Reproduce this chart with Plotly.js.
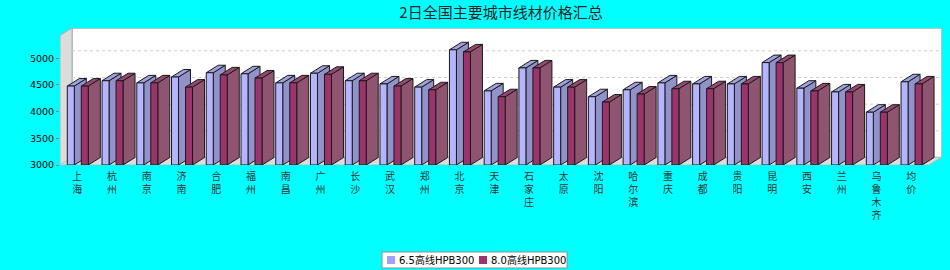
<!DOCTYPE html>
<html>
<head>
<meta charset="utf-8">
<script src="https://cdn.plot.ly/plotly-3.0.1.min.js"></script>
<style>html,body{margin:0;padding:0;background:#00ffff;}#chart{width:950px;height:270px;}</style>
</head>
<body>
<div id="chart"></div>
<script>
// ---- data ----
const categories = ['上海','杭州','南京','济南','合肥','福州','南昌','广州','长沙','武汉','郑州','北京','天津','石家庄','太原','沈阳','哈尔滨','重庆','成都','贵阳','昆明','西安','兰州','乌鲁木齐','均价'];
const series65 = [4480,4580,4540,4650,4730,4710,4540,4720,4580,4520,4460,5160,4390,4820,4460,4280,4410,4540,4520,4520,4920,4440,4370,3990,4560];
const series80 = [4480,4580,4540,4460,4690,4630,4540,4700,4580,4480,4410,5120,4280,4820,4460,4180,4330,4430,4430,4520,4920,4390,4370,3990,4520];
const seriesNames = ['6.5高线HPB300','8.0高线HPB300'];
const yTickVals = [3000,3500,4000,4500,5000];
const title = '2日全国主要城市线材价格汇总';

// ---- geometry (layout / scale helpers) ----
const W = 950, H = 270;
const M = {l:60, r:8, t:28, b:105};
const plotW = W - M.l - M.r, plotH = H - M.t - M.b;
const pxPerCat = 34.74;            // category spacing in px
const pxPer500 = 26.67;            // px per 500 on value axis
const yMin = 3000;
const yMax = yMin + plotH * 500 / pxPer500;
const xMin = -0.5, xMax = xMin + plotW / pxPerCat;
const xFrontMax = categories.length - 0.5;
const DX = 12 / pxPerCat;          // 3D depth (x)
const DY = 7.5 * 500 / pxPer500;   // 3D depth (y)
const barW = 7 / pxPerCat;
const offs = [-0.29, 0.113];
const pX = p => (p - M.l) / plotW;          // pixel -> paper x
const pY = p => (H - M.b - p) / plotH;      // pixel -> paper y

const col = {
  front: ['rgb(180,180,255)','rgb(156,52,108)'],
  side:  ['rgb(146,146,202)','rgb(143,84,112)'],
  top:   ['rgb(160,160,220)','rgb(150,72,112)'],
  legend:['rgb(160,160,255)','rgb(156,52,108)']
};

function poly(name, xs, ys, fill, line, lw) {
  return {type:'scatter', mode:'lines', x:xs, y:ys, fill:'toself', fillcolor:fill,
          line:{color:line, width:lw===undefined?1:lw}, hoverinfo:'skip', showlegend:false, name:name};
}

const traces = [];
// back wall
traces.push(poly('backwall', [xMin+DX, xMax, xMax, xMin+DX, xMin+DX], [yMin+DY, yMin+DY, yMax, yMax, yMin+DY], '#ffffff', '#8fbcbc', 1.5));
// left wall
traces.push(poly('leftwall', [xMin, xMin+DX, xMin+DX, xMin, xMin], [yMin, yMin+DY, yMax, yMax-DY, yMin], '#dcdcdc', '#b0b0b0', 1));
// floor
traces.push(poly('floor', [xMin, xFrontMax, xFrontMax+DX, xMin+DX, xMin], [yMin, yMin, yMin+DY, yMin+DY, yMin], '#dcdcdc', '#c0c0c0', 1));
// gridlines on back wall
{
  const gx = [], gy = [];
  yTickVals.slice(1).forEach(v => { gx.push(xMin+DX, xMax, null); gy.push(v+DY, v+DY, null); });
  traces.push({type:'scatter', mode:'lines', x:gx, y:gy, line:{color:'#cfcfcf', width:1, dash:'3px,3px'}, hoverinfo:'skip', showlegend:false});
}

// 3D bars
[series65, series80].forEach((vals, s) => {
  const fx=[], fy=[], sx=[], sy=[], tx=[], ty=[];
  vals.forEach((v, i) => {
    const xl = i + offs[s], xr = xl + barW;
    fx.push(xl, xr, xr, xl, xl, null); fy.push(yMin, yMin, v, v, yMin, null);
    sx.push(xr, xr+DX, xr+DX, xr, xr, null); sy.push(yMin, yMin+DY, v+DY, v, yMin, null);
    tx.push(xl, xr, xr+DX, xl+DX, xl, null); ty.push(v, v, v+DY, v+DY, v, null);
  });
  traces.push(poly(seriesNames[s]+' side', sx, sy, col.side[s], '#1a1a1a', 1));
  traces.push(poly(seriesNames[s]+' top', tx, ty, col.top[s], '#1a1a1a', 1));
  traces.push(poly(seriesNames[s], fx, fy, col.front[s], '#1a1a1a', 1));
});

// legend box (drawn like the reference's compact legend)
const legBox = {x0:382, x1:567, y0:252, y1:268};
const legItems = [{sw:387, tx:397}, {sw:479, tx:489}];
const shapes = [
  {type:'rect', xref:'paper', yref:'paper', x0:pX(legBox.x0), x1:pX(legBox.x1), y0:pY(legBox.y1), y1:pY(legBox.y0),
   fillcolor:'#ffffff', line:{color:'#909090', width:1}}
];
const annotations = [];
seriesNames.forEach((n, s) => {
  const it = legItems[s], cy = (legBox.y0 + legBox.y1) / 2;
  shapes.push({type:'rect', xref:'paper', yref:'paper', x0:pX(it.sw), x1:pX(it.sw+8), y0:pY(cy+4), y1:pY(cy-4),
               fillcolor:col.legend[s], line:{width:0}});
  annotations.push({xref:'paper', yref:'paper', x:pX(it.tx), y:pY(cy), xanchor:'left', yanchor:'middle',
                    text:n, showarrow:false, font:{family:'DejaVu Sans, Noto Sans CJK SC', size:10, color:'#000'}});
});

const layout = {
  width: W, height: H,
  margin: M,
  paper_bgcolor: '#00ffff',
  plot_bgcolor: '#00ffff',
  title: {text: title, x: 0.5, xref: 'paper', xanchor: 'center', y: 0.953, yref: 'container', yanchor: 'middle',
          font: {family: 'Noto Sans CJK SC', size: 15, color: '#222'}},
  xaxis: {range: [xMin, xMax], tickvals: categories.map((c,i)=>i),
          ticktext: categories.map(c => c.split('').join('<br>')),
          showgrid: false, zeroline: false, showline: false, ticks: '', ticklabelstandoff: 4,
          tickfont: {family: 'Noto Sans CJK SC', size: 10, color: '#333'}, fixedrange: true},
  yaxis: {range: [yMin, yMax], tickvals: yTickVals, ticktext: yTickVals.map(String),
          showgrid: false, zeroline: false, showline: false, ticks: 'outside', ticklen: 3, tickcolor: '#b07070',
          tickfont: {family: 'DejaVu Sans', size: 9.5, color: '#000'}, fixedrange: true},
  showlegend: false,
  shapes: shapes,
  annotations: annotations,
  hovermode: false
};

Plotly.newPlot('chart', traces, layout, {displayModeBar: false, staticPlot: true});
</script>
</body>
</html>
